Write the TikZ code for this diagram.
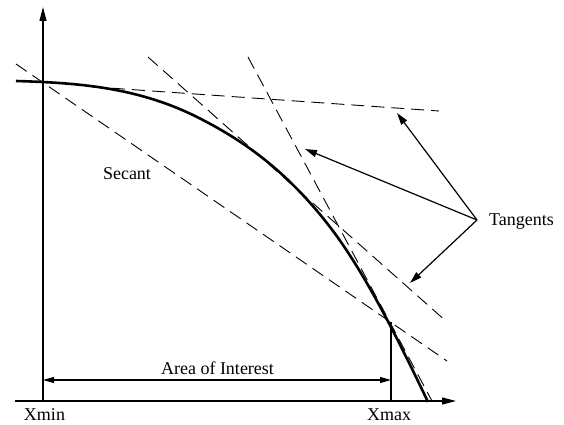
\documentclass[tikz,border=0pt]{standalone}
\usepackage{fontspec}
\setmainfont{Liberation Serif}
\usetikzlibrary{arrows.meta}
\begin{document}
\begin{tikzpicture}[x=1pt,y=-1pt,
  axisline/.style={line width=1.2pt,-{Triangle[length=14pt,width=7pt]}},
  dashline/.style={line width=0.9pt,dash pattern=on 13pt off 7pt},
  curveline/.style={line width=2.6pt,line join=round},
  pointer/.style={line width=1.2pt,-{Triangle[length=12pt,width=7pt]}},
  span/.style={line width=1.2pt,{Triangle[length=11pt,width=6pt]}-{Triangle[length=11pt,width=6pt]}},
  lbl/.style={font=\fontsize{18}{20}\selectfont,inner sep=0pt,anchor=base}]
\useasboundingbox (0,0) rectangle (564,425);
% axes
\coordinate (o) at (43,401);
\coordinate (ytop) at (43,7);
\coordinate (xl) at (15,401);
\coordinate (xr) at (456,401);
\draw[axisline] (o) -- (ytop);
\draw[axisline] (xl) -- (xr);
% Xmax marker
\coordinate (xmaxtop) at (391,322);
\coordinate (xmaxbot) at (391,401);
\draw[line width=1.2pt] (xmaxtop) -- (xmaxbot);
% curve (piecewise cubic)
\coordinate (cA) at (16,81);
\coordinate (cA1) at (76.3,82.8);
\coordinate (cB0) at (136.7,86.8);
\coordinate (cB) at (197,117);
\coordinate (cB1) at (241.3,139.2);
\coordinate (cC0) at (285.7,169.4);
\coordinate (cC) at (330,227);
\coordinate (cC1) at (362.7,269.5);
\coordinate (cD0) at (395.3,333.3);
\coordinate (cD) at (428,402);
\draw[curveline] (cA) .. controls (cA1) and (cB0) .. (cB)
  .. controls (cB1) and (cC0) .. (cC)
  .. controls (cC1) and (cD0) .. (cD);
% secant
\coordinate (s0) at (16,64);
\coordinate (s1) at (447,361);
\draw[dashline] (s0) -- (s1);
% tangents
\coordinate (ta0) at (92,86.8);
\coordinate (ta1) at (439,111);
\coordinate (tb0) at (148,57);
\coordinate (tb1) at (447,322);
\coordinate (tc0) at (248,57);
\coordinate (tc1) at (432,401);
\draw[dashline] (ta0) -- (ta1);
\draw[dashline] (tb0) -- (tb1);
\draw[dashline] (tc0) -- (tc1);
% labels
\node[lbl] (secant) at (127,179) {Secant};
\node[lbl,anchor=base west] (tan) at (489,225) {Tangents};
\node[lbl] (aoi) at (217.5,374) {Area of Interest};
\node[lbl] (xmin) at (44.5,420) {Xmin};
\node[lbl] (xmax) at (389,420) {Xmax};
% pointers
\coordinate (tt) at (477,220);
\coordinate (pa) at (397,113);
\coordinate (pb) at (305,149);
\coordinate (pc) at (410,283);
\draw[pointer] (tt) -- (pa);
\draw[pointer] (tt) -- (pb);
\draw[pointer] (tt) -- (pc);
% area of interest span
\coordinate (al) at (43,380);
\coordinate (ar) at (391,380);
\draw[span] (al) -- (ar);
\end{tikzpicture}
\end{document}
